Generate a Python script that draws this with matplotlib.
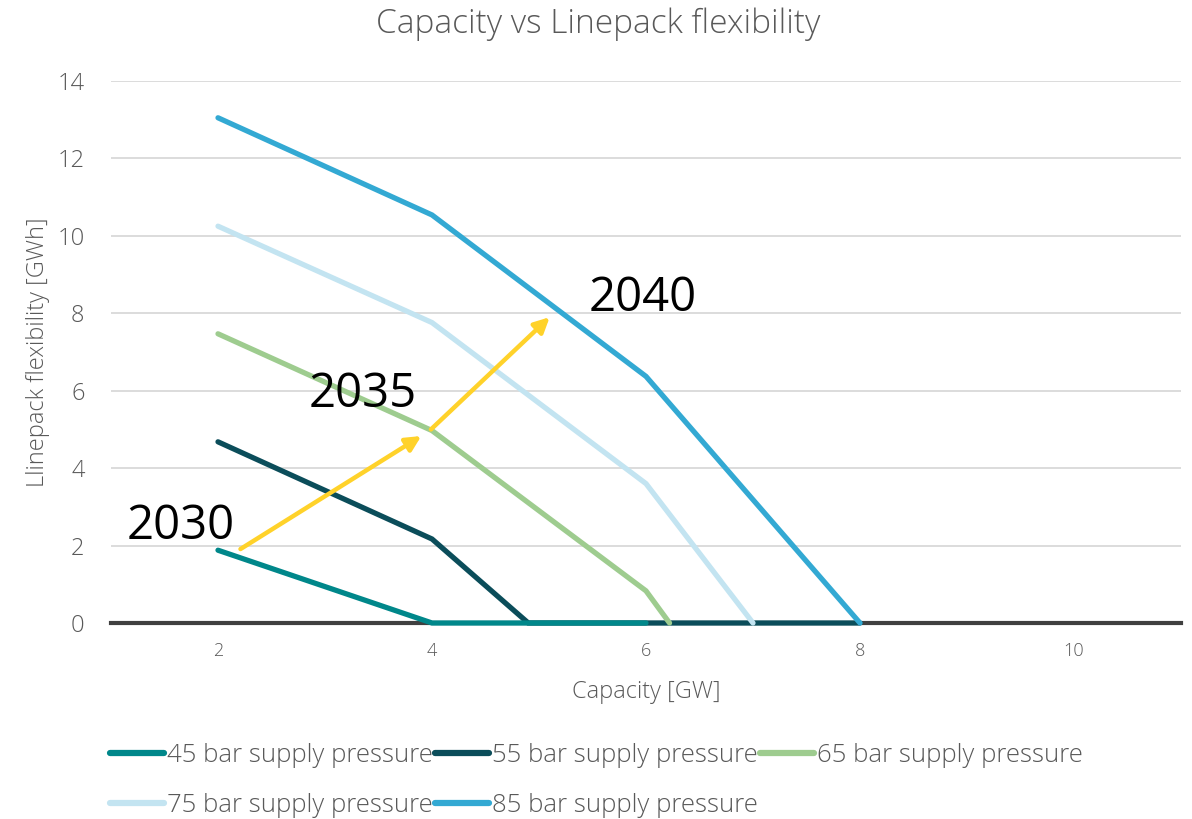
import matplotlib
matplotlib.use("Agg")
import matplotlib.pyplot as plt

plt.rcParams['font.family'] = ['Open Sans', 'DejaVu Sans']

series_names = ["45 bar supply pressure", "55 bar supply pressure", "65 bar supply pressure",
                "75 bar supply pressure", "85 bar supply pressure"]
x45 = [2, 4, 6]
y45 = [1.88, 0, 0]
x55 = [2, 4, 4.9, 6, 8]
y55 = [4.68, 2.17, 0, 0, 0]
x65 = [2, 4, 6, 6.22]
y65 = [7.47, 4.97, 0.83, 0]
x75 = [2, 4, 6, 7.0]
y75 = [10.25, 7.76, 3.6, 0]
x85 = [2, 4, 6, 8]
y85 = [13.05, 10.54, 6.37, 0]
colors = ["#00878A", "#0B4D5A", "#9ECC8F", "#C3E4F1", "#33A9D3"]

arrows = [((2.21, 1.91), (3.9, 4.83)), ((3.99, 5.0), (5.1, 7.9))]
year_labels = ["2030", "2035", "2040"]
year_pos = [(1.65, 2.5), (3.35, 5.9), (5.97, 8.4)]

fig = plt.figure(figsize=(11.92, 8.19), dpi=100)
ax = fig.add_axes([111/1192, 1-623/819, (1181-111)/1192, (623-81)/819])

ax.set_xlim(1, 11)
ax.set_ylim(0, 14)
ax.set_yticks(range(0, 15, 2))
ax.set_xticks([2, 4, 6, 8, 10])
ax.set_axisbelow(True)
ax.grid(axis='y', color='#D9D9D9', linewidth=1.3)
for s in ['top', 'right', 'left', 'bottom']:
    ax.spines[s].set_visible(False)
ax.axhline(0, color='#404040', linewidth=3, zorder=3, clip_on=False)
ax.tick_params(axis='both', length=0)
ax.tick_params(axis='y', labelsize=17, labelcolor='#595959', pad=19)
ax.tick_params(axis='x', labelsize=13, labelcolor='#595959', pad=14)
for lbl in ax.get_xticklabels() + ax.get_yticklabels():
    lbl.set_fontweight('light')

data = [(x45, y45), (x55, y55), (x65, y65), (x75, y75), (x85, y85)]
zs = [6, 5, 7, 8, 9]
handles = []
for (xs, ys), c, n, z in zip(data, colors, series_names, zs):
    h, = ax.plot(xs, ys, color=c, linewidth=3.8, label=n, zorder=z,
                 solid_capstyle='round', solid_joinstyle='miter', clip_on=False)
    handles.append(h)

for (s, e) in arrows:
    ax.annotate("", xy=e, xytext=s,
                arrowprops=dict(arrowstyle="-|>,head_length=0.9,head_width=0.45",
                                color="#FFD22A", lw=3.2, shrinkA=0, shrinkB=0),
                zorder=10)

for t, (px, py) in zip(year_labels, year_pos):
    ax.text(px, py, t, fontsize=34, color='black', ha='center', va='center', zorder=11)

ax.set_xlabel("Capacity [GW]", fontsize=17, color='#595959', labelpad=14, fontweight='light')
ax.set_ylabel("Llinepack flexibility [GWh]", fontsize=17, color='#595959', labelpad=5,
              fontweight='light')
fig.text(598/1192, 1-24/819, "Capacity vs Linepack flexibility", fontsize=24,
         color='#595959', ha='center', va='center', fontweight='light')

order = [0, 3, 1, 4, 2]
leg = fig.legend(handles=[handles[i] for i in order], loc='upper left',
                 bbox_to_anchor=(100/1192, 1-733/819),
                 ncol=3, frameon=False, fontsize=18.5, handlelength=2.1, handletextpad=0.1,
                 columnspacing=0.1, labelspacing=0.95, borderaxespad=0)
for t in leg.get_texts():
    t.set_color('#595959')
    t.set_fontweight('light')
for l in leg.get_lines():
    l.set_linewidth(4.5)

fig.savefig("out.png", dpi=100)
